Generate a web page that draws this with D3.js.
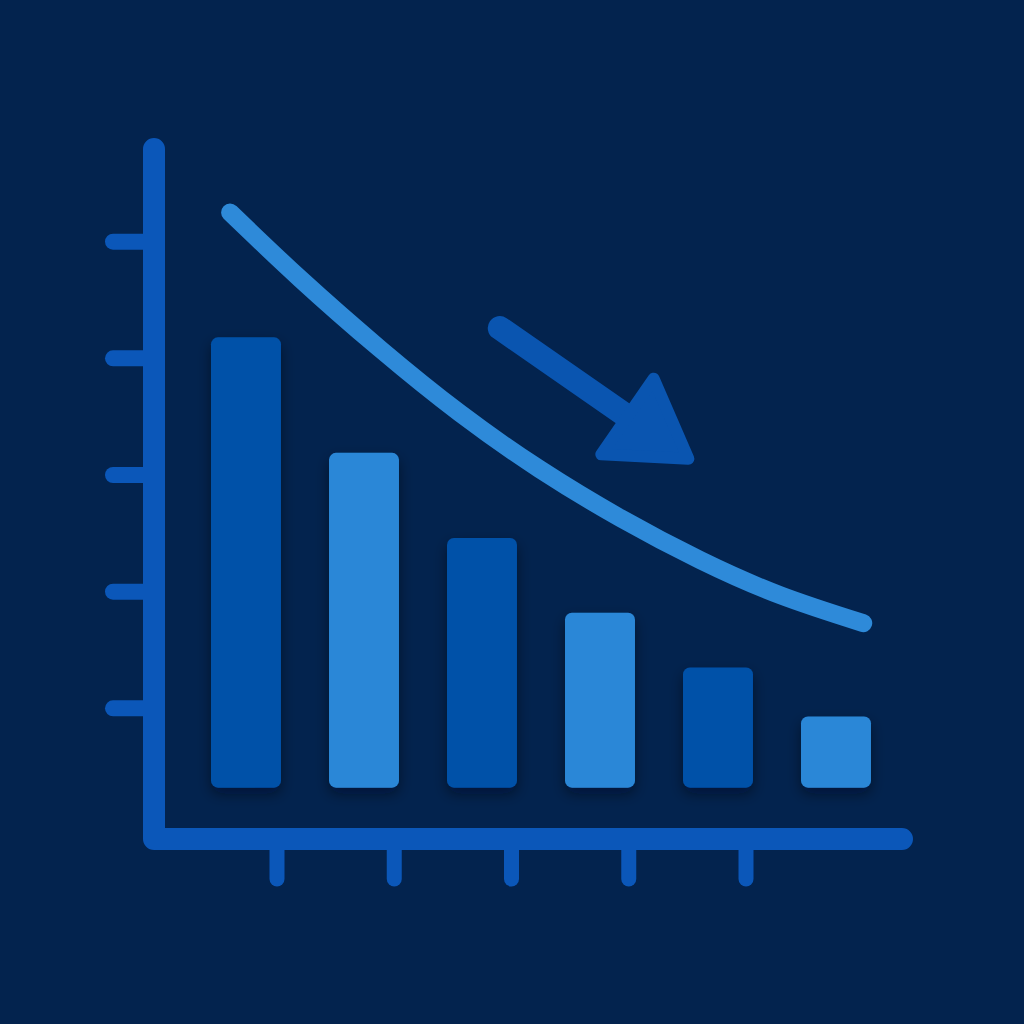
<!DOCTYPE html>
<html>
<head>
<meta charset="utf-8">
<script src="https://cdn.jsdelivr.net/npm/d3@7"></script>
<style>
  html, body { margin: 0; padding: 0; background: #03234e; }
  svg { display: block; }
</style>
</head>
<body>
<div id="chart"></div>
<script>
// bar categories and heights
var categories = ["A", "B", "C", "D", "E", "F"];
var barValues = [4.18, 3.19, 2.46, 1.82, 1.35, 0.93];
var barBase = 0.32;

// trend curve points (x in tick units, y in value units)
var curveX = [0.60, 1.20, 1.88, 2.56, 3.24, 3.93, 4.61, 5.29, 6.00];
var curveY = [5.25, 4.68, 4.08, 3.53, 3.05, 2.63, 2.27, 1.97, 1.73];

// tick positions
var xTicks = [1, 2, 3, 4, 5];
var yTicks = [1, 2, 3, 4, 5];

// arrow annotation, start and tip in data units
var arrowFrom = [2.90, 4.26];
var arrowTo = [4.55, 3.11];

var width = 1024, height = 1024;

var svg = d3.select("#chart")
    .append("svg")
    .attr("width", width)
    .attr("height", height);

svg.append("rect")
    .attr("width", width)
    .attr("height", height)
    .attr("fill", "#03234e");

var defs = svg.append("defs");
var shadow = defs.append("filter")
    .attr("id", "shadow")
    .attr("x", "-30%").attr("y", "-30%")
    .attr("width", "160%").attr("height", "160%");
shadow.append("feDropShadow")
    .attr("dx", 0)
    .attr("dy", 6)
    .attr("stdDeviation", 7)
    .attr("flood-color", "#000814")
    .attr("flood-opacity", 0.45);

// scales
var x = d3.scaleLinear().domain([0, 6]).range([159.75, 863.25]);
var y = d3.scaleLinear().domain([0, 6]).range([825, 125]);
var xBand = d3.scaleBand()
    .domain(categories)
    .range([187, 895])
    .paddingInner(0.407)
    .paddingOuter(0.2035);

var axisColor = "#0b57b9";

// tick marks on the y axis
svg.selectAll(".ytick")
    .data(yTicks)
    .enter()
    .append("line")
    .attr("class", "ytick")
    .attr("x1", 113)
    .attr("x2", 150)
    .attr("y1", d => y(d))
    .attr("y2", d => y(d))
    .attr("stroke", axisColor)
    .attr("stroke-width", 16)
    .attr("stroke-linecap", "round");

// tick marks below the x axis
svg.selectAll(".xtick")
    .data(xTicks)
    .enter()
    .append("line")
    .attr("class", "xtick")
    .attr("x1", d => x(d))
    .attr("x2", d => x(d))
    .attr("y1", 845)
    .attr("y2", 879)
    .attr("stroke", axisColor)
    .attr("stroke-width", 15)
    .attr("stroke-linecap", "round");

// axis lines as one L shaped path
var axisPath = d3.path();
axisPath.moveTo(154, 149);
axisPath.lineTo(154, 839);
axisPath.lineTo(902, 839);
svg.append("path")
    .attr("d", axisPath.toString())
    .attr("fill", "none")
    .attr("stroke", axisColor)
    .attr("stroke-width", 22)
    .attr("stroke-linecap", "round")
    .attr("stroke-linejoin", "round");

// bars
svg.selectAll(".bar")
    .data(barValues)
    .enter()
    .append("rect")
    .attr("class", "bar")
    .attr("x", (d, i) => xBand(categories[i]))
    .attr("width", xBand.bandwidth())
    .attr("y", d => y(d))
    .attr("height", d => y(barBase) - y(d))
    .attr("rx", 7)
    .attr("fill", (d, i) => i % 2 === 0 ? "#0551a8" : "#2b87d7")
    .attr("filter", "url(#shadow)");

// trend curve
var line = d3.line()
    .x(d => x(d[0]))
    .y(d => y(d[1]))
    .curve(d3.curveNatural);

svg.append("path")
    .datum(d3.zip(curveX, curveY))
    .attr("d", line)
    .attr("fill", "none")
    .attr("stroke", "#2e8ad9")
    .attr("stroke-width", 18)
    .attr("stroke-linecap", "round");

// downward arrow
var ax0 = x(arrowFrom[0]), ay0 = y(arrowFrom[1]);
var ax1 = x(arrowTo[0]), ay1 = y(arrowTo[1]);
var ang = Math.atan2(ay1 - ay0, ax1 - ax0);
var headLen = 80, headHalf = 46;
var bx = ax1 - headLen * Math.cos(ang), by = ay1 - headLen * Math.sin(ang);
var nx = -Math.sin(ang), ny = Math.cos(ang);
var arrowColor = "#0a55b0";

svg.append("line")
    .attr("x1", ax0).attr("y1", ay0)
    .attr("x2", bx + 10 * Math.cos(ang)).attr("y2", by + 10 * Math.sin(ang))
    .attr("stroke", arrowColor)
    .attr("stroke-width", 24)
    .attr("stroke-linecap", "round");

svg.append("polygon")
    .attr("points", [
        [ax1 - 6 * Math.cos(ang), ay1 - 6 * Math.sin(ang)],
        [bx + headHalf * nx, by + headHalf * ny],
        [bx - headHalf * nx, by - headHalf * ny]
    ].map(p => p.join(",")).join(" "))
    .attr("fill", arrowColor)
    .attr("stroke", arrowColor)
    .attr("stroke-width", 12)
    .attr("stroke-linejoin", "round");
</script>
</body>
</html>
